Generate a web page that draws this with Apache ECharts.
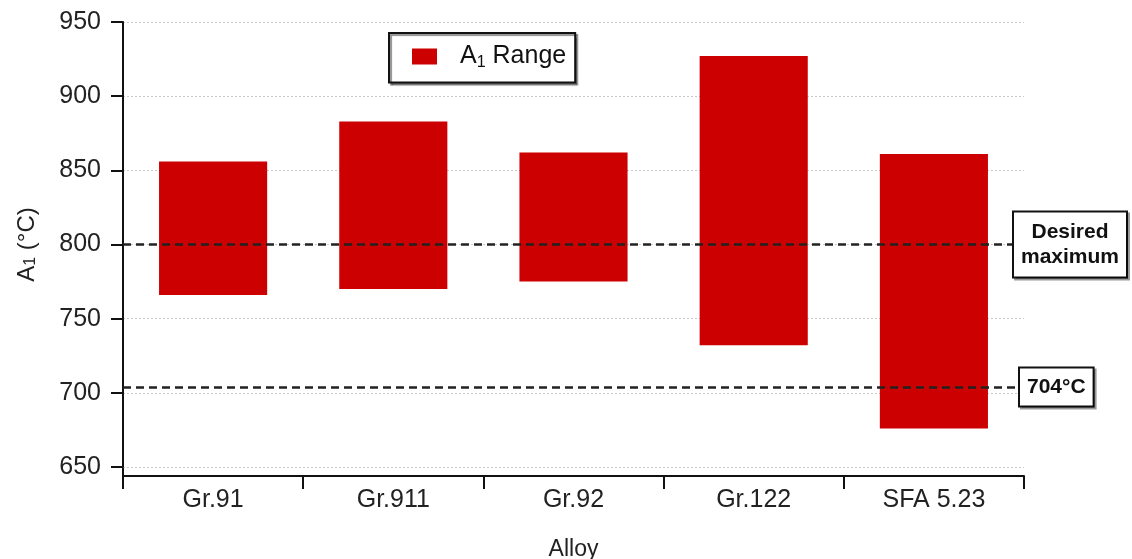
<!DOCTYPE html>
<html>
<head>
<meta charset="utf-8">
<script src="https://cdn.jsdelivr.net/npm/echarts@6/dist/echarts.min.js"></script>
<style>
  html, body { margin: 0; padding: 0; background: #fff; }
  #main { width: 1132px; height: 559px; }
</style>
</head>
<body>
<div id="main"></div>
<script>
// alloys and the A1 range of each (low / high, °C)
var alloys = ['Gr.91', 'Gr.911', 'Gr.92', 'Gr.122', 'SFA 5.23'];
var a1Low = [766, 770, 775, 732, 676];
var a1High = [856, 883, 862, 927, 861];
var desiredMax = 800;
var limit704 = 704;

// stacked bars: invisible base + visible span
var span = a1High.map(function (h, i) { return h - a1Low[i]; });

var font = 'Liberation Sans, Arial, sans-serif';
var myChart = echarts.init(document.getElementById('main'));

var boxLabel = {
    show: true,
    position: 'end',
    fontSize: 21,
    fontWeight: 'bold',
    lineHeight: 25,
    color: '#111',
    backgroundColor: '#fff',
    borderColor: '#111',
    borderWidth: 2,
    shadowColor: 'rgba(0,0,0,0.4)',
    shadowOffsetX: 2,
    shadowOffsetY: 2
};

var option = {
    animation: false,
    textStyle: { fontFamily: font },
    grid: { left: 123, right: 108, top: 22, bottom: 92, outerBoundsMode: 'none' },
    // y axis line continues down to the offset x axis
    graphic: [{
        type: 'line',
        shape: { x1: 123, y1: 466, x2: 123, y2: 477 },
        style: { stroke: '#111', lineWidth: 2 },
        silent: true
    }],
    legend: {
        data: ['A1 Range'],
        left: 389,
        top: 33,
        padding: [11, 9, 12, 23],
        borderColor: '#111',
        borderWidth: 2,
        backgroundColor: '#fff',
        shadowColor: 'rgba(0,0,0,0.45)',
        shadowOffsetX: 2,
        shadowOffsetY: 2,
        shadowBlur: 1,
        itemWidth: 25,
        itemHeight: 16,
        icon: 'rect',
        formatter: function () { return 'A{sub|1} Range'; },
        textStyle: {
            fontSize: 25,
            color: '#111',
            padding: [0, 0, 0, 18],
            rich: {
                sub: { fontSize: 16, verticalAlign: 'bottom', padding: [12, 0, 0, 0], color: '#111' }
            }
        }
    },
    xAxis: {
        type: 'category',
        data: alloys,
        offset: 9,
        name: 'Alloy',
        nameLocation: 'middle',
        nameGap: 62,
        nameTextStyle: { fontSize: 23, color: '#222' },
        axisLine: { lineStyle: { color: '#111', width: 2 } },
        axisTick: { show: true, length: 13, lineStyle: { color: '#111', width: 2 } },
        axisLabel: { fontSize: 25, color: '#222', margin: 12 },
        splitLine: { show: false }
    },
    yAxis: {
        type: 'value',
        min: 650,
        max: 950,
        interval: 50,
        name: 'A{sub|1} (°C)',
        nameLocation: 'middle',
        nameRotate: 90,
        nameGap: 84,
        nameTextStyle: {
            fontSize: 24,
            color: '#222',
            rich: {
                sub: { fontSize: 16, verticalAlign: 'bottom', padding: [8, 0, 0, 0], color: '#222' }
            }
        },
        axisLine: { show: true, lineStyle: { color: '#111', width: 2 } },
        axisTick: { show: true, length: 12, lineStyle: { color: '#111', width: 2 } },
        axisLabel: { fontSize: 25, color: '#222', margin: 22 },
        splitLine: { show: true, lineStyle: { color: '#c8c8c8', type: [2, 2], width: 1 } }
    },
    series: [
        {
            name: 'base',
            type: 'bar',
            stack: 'a1',
            data: a1Low,
            barWidth: '60%',
            itemStyle: { color: 'rgba(0,0,0,0)' },
            silent: true,
            markLine: {
                silent: true,
                symbol: 'none',
                lineStyle: { color: '#222', type: [8, 5], width: 2.5 },
                data: [
                    {
                        yAxis: desiredMax,
                        label: Object.assign({}, boxLabel, {
                            distance: -10,
                            formatter: '{a|Desired}\n{a|maximum}',
                            padding: [7, 4, 7, 4],
                            rich: {
                                a: { width: 104, align: 'center', fontSize: 21, fontWeight: 'bold', lineHeight: 25, color: '#111' }
                            }
                        })
                    },
                    {
                        yAxis: limit704,
                        label: Object.assign({}, boxLabel, {
                            distance: -4,
                            formatter: '704°C',
                            padding: [6, 7, 6, 7]
                        })
                    }
                ]
            }
        },
        {
            name: 'A1 Range',
            type: 'bar',
            stack: 'a1',
            data: span,
            barWidth: '60%',
            itemStyle: { color: '#cc0000' }
        }
    ]
};

myChart.setOption(option);
</script>
</body>
</html>
